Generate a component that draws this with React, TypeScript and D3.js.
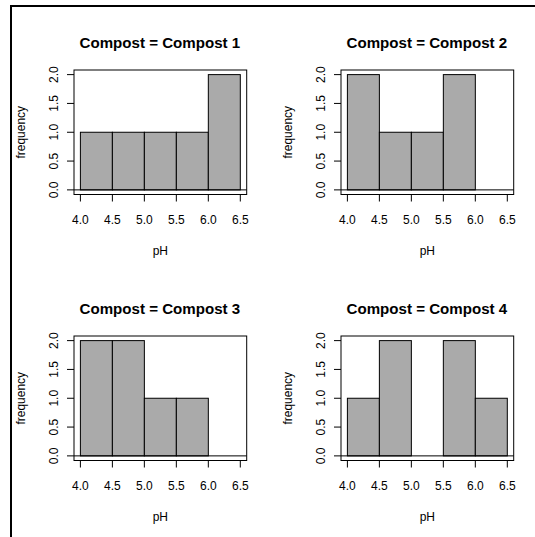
import React from "react";
import * as d3 from "d3";

const composts = ["Compost 1", "Compost 2", "Compost 3", "Compost 4"];
const binEdges = [4.0, 4.5, 5.0, 5.5, 6.0, 6.5];
const counts1 = [1, 1, 1, 1, 2];
const counts2 = [2, 1, 1, 2, 0];
const counts3 = [2, 2, 1, 1, 0];
const counts4 = [1, 2, 0, 2, 1];
const allCounts = [counts1, counts2, counts3, counts4];
const xTicks = [4.0, 4.5, 5.0, 5.5, 6.0, 6.5];
const yTicks = [0, 0.5, 1.0, 1.5, 2.0];

const FONT = "'Liberation Sans', Arial, Helvetica, sans-serif";
const BOX_W = 172.7;
const BOX_H = 124.5;
const fmt = d3.format(".1f");

function Panel({ idx }: { idx: number }) {
  const col = idx % 2;
  const row = Math.floor(idx / 2);
  const ox = 74 + 267 * col;
  const oy = 70 + 266 * row;
  const x = d3.scaleLinear().domain([3.9, 6.6]).range([ox, ox + BOX_W]);
  const y = d3.scaleLinear().domain([-0.08, 2.08]).range([oy + BOX_H, oy]);
  const counts = allCounts[idx];
  const cx = ox + BOX_W / 2;
  const cy = oy + BOX_H / 2;
  return (
    <g>
      <text x={cx - 0.5} y={oy - 22.5} textAnchor="middle" fontFamily={FONT} fontWeight="bold" fontSize={15.1} fill="#000">
        {`Compost = ${composts[idx]}`}
      </text>
      {counts.map((c, i) => (
        <rect
          key={i}
          x={x(binEdges[i])}
          y={y(c)}
          width={x(binEdges[i + 1]) - x(binEdges[i])}
          height={Math.max(0, y(0) - y(c))}
          fill="#aaaaaa"
          stroke="#000"
          strokeWidth={1}
        />
      ))}
      <line x1={ox} x2={ox + BOX_W} y1={y(0)} y2={y(0)} stroke="#000" strokeWidth={1} />
      <rect x={ox} y={oy} width={BOX_W} height={BOX_H} fill="none" stroke="#000" strokeWidth={1} />
      {xTicks.map((t) => (
        <g key={t}>
          <line x1={x(t)} x2={x(t)} y1={oy + BOX_H} y2={oy + BOX_H + 7} stroke="#000" strokeWidth={1} />
          <text x={x(t)} y={oy + BOX_H + 29.5} textAnchor="middle" fontFamily={FONT} fontSize={12} fill="#000">
            {fmt(t)}
          </text>
        </g>
      ))}
      {yTicks.map((t) => (
        <g key={t}>
          <line x1={ox - 7} x2={ox} y1={y(t)} y2={y(t)} stroke="#000" strokeWidth={1} />
          <text
            transform={`translate(${ox - 16.5},${y(t)}) rotate(-90)`}
            textAnchor="middle"
            fontFamily={FONT}
            fontSize={12}
            fill="#000"
          >
            {fmt(t)}
          </text>
        </g>
      ))}
      <text x={cx} y={oy + BOX_H + 60.5} textAnchor="middle" fontFamily={FONT} fontSize={12} fill="#000">
        pH
      </text>
      <text
        transform={`translate(${ox - 49.5},${cy}) rotate(-90)`}
        textAnchor="middle"
        fontFamily={FONT}
        fontSize={12}
        fill="#000"
      >
        frequency
      </text>
    </g>
  );
}

export default function App() {
  return (
    <svg
      width={535}
      height={537}
      style={{ position: "absolute", left: 0, top: 0, background: "#fff" }}
    >
      <rect x={0} y={0} width={535} height={537} fill="#fff" />
      <line x1={10} x2={535} y1={6} y2={6} stroke="#000" strokeWidth={2} />
      <line x1={11} x2={11} y1={5} y2={537} stroke="#000" strokeWidth={2} />
      {composts.map((_, i) => (
        <Panel key={i} idx={i} />
      ))}
    </svg>
  );
}
